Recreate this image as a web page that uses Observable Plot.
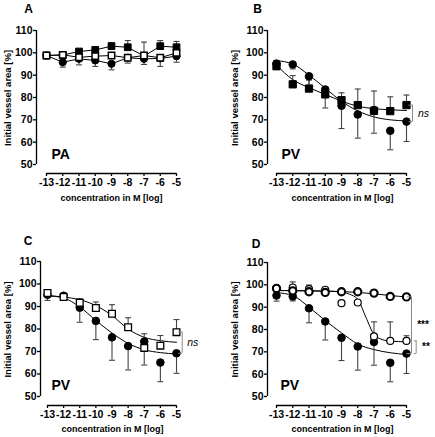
<!DOCTYPE html>
<html>
<head>
<meta charset="utf-8">
<script src="https://cdn.jsdelivr.net/npm/d3@7"></script>
<script src="https://cdn.jsdelivr.net/npm/@observablehq/plot@0.6"></script>
<style>
  html, body { margin: 0; padding: 0; background: #fff; }
  #wrap { position: relative; width: 435px; height: 437px; overflow: hidden; }
  .panel { position: absolute; }
</style>
</head>
<body>
<div id="wrap"></div>
<script>
// ---------- data ----------
const xVals = [-13, -12, -11, -10, -9, -8, -7, -6, -5];
const xTicks = [-13, -12, -11, -10, -9, -8, -7, -6, -5];
const yTicks = [50, 60, 70, 80, 90, 100, 110];
const xDomain = [-13, -5];
const yDomain = [50, 110];

// Panel A (PA)
const paFilledSquare   = [98.8, 99.0, 100.6, 101.3, 103.0, 102.5, 98.5, 103.0, 102.5];
const paFilledSquareUp = [null, null, null, 102.5, 104.5, 105.5, 104.8, 105.5, 105.1];
const paCircle         = [98.8, 95.8, 97.3, 96.6, 95.1, 97.8, 97.3, 97.5, 98.5];
const paCircleDown     = [null, 93.6, 94.6, 93.9, 92.4, 95.4, 94.8, 93.9, 95.8];
const paOpenSquare     = [98.8, 99.1, 98.0, 98.5, 98.8, 97.8, 98.8, 97.8, 100.0];

// PV control (filled circles, panels B, C, D)
const pvControl     = [95.2, 94.8, 89.5, 83.6, 76.3, 72.4, 74.4, 65.1, 69.2];
const pvControlDown = [92.7, 92.8, 83.0, 75.3, 66.1, 61.8, 64.0, 56.6, 60.3];

// Panel B
const pvbSquare    = [94.0, 85.9, 84.0, 81.4, 78.8, 76.6, 74.0, 73.9, 76.6];
const pvbSquareUp  = [96.5, 89.8, 87.8, 83.5, 82.1, 83.8, 82.9, 80.3, 81.1];
const pvbControlFit = [96.5, 95.0, 90.0, 84.2, 78.3, 74.0, 71.3, 70.0, 69.5];
const pvbSquareFit  = [94.5, 88.0, 84.4, 81.4, 78.4, 76.1, 75.0, 74.5, 74.2];

// Panel C
const pvcSquare    = [96.0, 94.2, 91.7, 89.3, 86.8, 80.8, 71.6, 72.6, 78.6];
const pvcSquareUp  = [null, null, 93.5, 92.0, 90.8, 85.0, 77.9, 77.1, 84.2];
const pvcControlFit = [94.8, 93.8, 89.8, 83.8, 78.2, 73.6, 70.8, 69.5, 68.9];
const pvcSquareFit  = [94.8, 94.2, 93.0, 90.4, 86.0, 80.0, 76.3, 74.8, 74.1];

// Panel D
const pvdThick    = [98.4, 97.3, 96.9, 96.6, 96.9, 96.9, 96.3, 94.8, 94.6];
const pvdThin     = [98.4, 98.8, 98.1, 97.8, 91.8, 92.1, 76.9, 74.9, 74.9];
const pvdThinUp   = [null, 101.3, 99.9, null, null, null, 83.4, 83.4, 77.2];
const pvdThickFit = [97.5, 97.4, 97.3, 97.2, 97.0, 96.6, 96.0, 95.2, 94.6];
const pvdThinFitX = [-13, -12, -11, -10, -9, -8.5, -8, -7.5, -7, -6.5, -6, -5];
const pvdThinFit  = [97.4, 97.4, 97.3, 97.2, 96.8, 95.8, 93.5, 85.5, 77.8, 75.5, 74.8, 74.5];
const pvdControlFit = [96.5, 95.2, 90.0, 84.0, 78.5, 73.5, 71.0, 69.6, 68.8];

// ---------- helpers ----------
const FONT = "'Liberation Sans', Arial, Helvetica, sans-serif";
const BAR = "#444";
const capSymbol = { draw(ctx, size) { const w = Math.sqrt(size / Math.PI); ctx.moveTo(-w, 0); ctx.lineTo(w, 0); } };
const leftTick  = { draw(ctx, size) { const w = Math.sqrt(size / Math.PI); ctx.moveTo(-w, 0); ctx.lineTo(0, 0); } };

function rows(xs, ys, up, down) {
  return xs.map((x, i) => ({ x, y: ys[i], up: up ? up[i] : null, down: down ? down[i] : null }));
}

function seriesMarks(s) {
  const data = rows(xVals, s.values, s.up, s.down);
  const m = [];
  const ups = data.filter(d => d.up != null);
  const downs = data.filter(d => d.down != null);
  if (ups.length) {
    m.push(Plot.ruleX(ups, { x: "x", y1: "y", y2: "up", stroke: BAR, strokeWidth: 1.1 }));
    m.push(Plot.dot(ups, { x: "x", y: "up", symbol: capSymbol, r: 3, fill: "none", stroke: BAR, strokeWidth: 1.1 }));
  }
  if (downs.length) {
    m.push(Plot.ruleX(downs, { x: "x", y1: "y", y2: "down", stroke: BAR, strokeWidth: 1.1 }));
    m.push(Plot.dot(downs, { x: "x", y: "down", symbol: capSymbol, r: 3, fill: "none", stroke: BAR, strokeWidth: 1.1 }));
  }
  return m;
}
function lineMark(xs, ys, curve) {
  return Plot.line(rows(xs, ys), { x: "x", y: "y", curve, stroke: "black", strokeWidth: 1 });
}
function dotMark(s) {
  return Plot.dot(rows(xVals, s.values), {
    x: "x", y: "y", symbol: s.symbol, r: s.r,
    fill: s.open ? "white" : "black", stroke: "black", strokeWidth: s.sw || 1
  });
}
function bracketMarks(b) {
  const d = [{ x: xDomain[1], y1: b.top, y2: b.bottom, mid: (b.top + b.bottom) / 2 }];
  const ends = [{ x: xDomain[1], y: b.top }, { x: xDomain[1], y: b.bottom }];
  const m = [
    Plot.ruleX(d, { x: "x", y1: "y1", y2: "y2", dx: b.dx, stroke: "#8a8a8a", strokeWidth: 1 }),
    Plot.dot(ends, { x: "x", y: "y", symbol: leftTick, r: b.tick, dx: b.dx, fill: "none", stroke: "#8a8a8a", strokeWidth: 1 }),
    Plot.text(d, { x: "x", y: "mid", text: () => b.label, dx: b.ldx, textAnchor: "start", lineAnchor: "middle",
      fontSize: b.italic ? 10.5 : 10, fontStyle: b.italic ? "italic" : "normal", fontWeight: b.italic ? "normal" : "bold", fill: "black" })
  ];
  return m;
}

function panel(cfg) {
  const { width, height, ml, mr, mt, mb, insetL, insetB } = cfg;
  const marks = [];
  // offset axis lines
  marks.push(Plot.ruleX([{ x: xDomain[0], y1: yDomain[0], y2: yDomain[1] }],
    { x: "x", y1: "y1", y2: "y2", dx: -insetL, stroke: "black", strokeWidth: 1.3 }));
  marks.push(Plot.ruleY([{ y: yDomain[0], x1: xDomain[0], x2: xDomain[1] }],
    { y: "y", x1: "x1", x2: "x2", dy: insetB, stroke: "black", strokeWidth: 1.3 }));
  marks.push(Plot.axisX(xTicks, { anchor: "bottom", tickSize: 3, tickPadding: 2, strokeWidth: 1.3,
    tickFormat: d => String(d), label: null, fontSize: 10.5, fontWeight: "bold" }));
  marks.push(Plot.axisY(yTicks, { anchor: "left", tickSize: 3, tickPadding: 1, strokeWidth: 1.3,
    tickFormat: d => String(d), label: null, fontSize: 10.5, fontWeight: "bold" }));
  // titles
  const t = (txt, px, py, opts) => Plot.text([txt], Object.assign({
    frameAnchor: "top-left", dx: px - ml, dy: py - mt, text: d => d, fill: "black",
    fontWeight: "bold", textAnchor: "middle", lineAnchor: "middle"
  }, opts));
  marks.push(t(cfg.letter, cfg.letterPos[0], cfg.letterPos[1], { fontSize: 12 }));
  marks.push(t(cfg.tissue, cfg.tissuePos[0], cfg.tissuePos[1], { fontSize: 14, textAnchor: "start" }));
  marks.push(t("Initial vessel area [%]", cfg.yTitlePos[0], cfg.yTitlePos[1], { fontSize: 9.5, rotate: -90 }));
  marks.push(t("concentration in M [log]", cfg.xTitlePos[0], cfg.xTitlePos[1], { fontSize: 9 }));
  // data
  (cfg.lines || []).forEach(l => marks.push(lineMark(l.x, l.y, l.curve || "monotone-x")));
  (cfg.series || []).forEach(s => marks.push(...seriesMarks(s)));
  (cfg.series || []).forEach(s => marks.push(dotMark(s)));
  (cfg.brackets || []).forEach(b => marks.push(...bracketMarks(b)));

  const svg = Plot.plot({
    width, height, marginLeft: ml, marginRight: mr, marginTop: mt, marginBottom: mb,
    x: { domain: xDomain, insetLeft: insetL },
    y: { domain: yDomain, insetBottom: insetB },
    style: { fontFamily: FONT, color: "black", background: "white", overflow: "visible" },
    marks
  });
  const div = document.createElement("div");
  div.className = "panel";
  div.style.left = cfg.left + "px";
  div.style.top = cfg.top + "px";
  div.appendChild(svg);
  document.getElementById("wrap").appendChild(div);
}

// ---------- panels ----------
panel({
  left: 0, top: 0, width: 217, height: 218, ml: 36, mr: 41, mt: 30, mb: 45, insetL: 10, insetB: 9,
  letter: "A", letterPos: [28, 9], tissue: "PA", tissuePos: [51, 154],
  yTitlePos: [7, 97.5], xTitlePos: [111, 198],
  lines: [
    { x: xVals, y: paCircle, curve: "linear" },
    { x: xVals, y: paFilledSquare, curve: "linear" },
    { x: xVals, y: paOpenSquare, curve: "linear" }
  ],
  series: [
    { values: paCircle, down: paCircleDown, symbol: "circle", r: 3.6 },
    { values: paFilledSquare, up: paFilledSquareUp, symbol: "square", r: 3.8 },
    { values: paOpenSquare, symbol: "square", r: 3.6, open: true, sw: 1.5 }
  ]
});

panel({
  left: 217, top: 0, width: 218, height: 218, ml: 50, mr: 29, mt: 30, mb: 45, insetL: 9, insetB: 9,
  letter: "B", letterPos: [40, 8.5], tissue: "PV", tissuePos: [64, 154],
  yTitlePos: [17, 97.5], xTitlePos: [125, 198],
  lines: [
    { x: xVals, y: pvbControlFit },
    { x: xVals, y: pvbSquareFit }
  ],
  series: [
    { values: pvControl, down: pvControlDown, symbol: "circle", r: 3.8 },
    { values: pvbSquare, up: pvbSquareUp, symbol: "square", r: 4.1 }
  ],
  brackets: [
    { top: pvbSquare[8], bottom: pvControl[8], dx: 6, tick: 4, label: "ns", ldx: 11.5, italic: true }
  ]
});

panel({
  left: 0, top: 218, width: 217, height: 219, ml: 40, mr: 41, mt: 43, mb: 32, insetL: 7, insetB: 9,
  letter: "C", letterPos: [27.5, 23], tissue: "PV", tissuePos: [51, 167.5],
  yTitlePos: [7, 111], xTitlePos: [112, 211],
  lines: [
    { x: xVals, y: pvcControlFit },
    { x: xVals, y: pvcSquareFit }
  ],
  series: [
    { values: pvControl, down: pvControlDown, symbol: "circle", r: 3.8 },
    { values: pvcSquare, up: pvcSquareUp, symbol: "square", r: 3.8, open: true, sw: 1.3 }
  ],
  brackets: [
    { top: pvcSquare[8], bottom: pvControl[8], dx: 5.7, tick: 4, label: "ns", ldx: 10.7, italic: true }
  ]
});

panel({
  left: 217, top: 218, width: 218, height: 219, ml: 50, mr: 29, mt: 44, mb: 32, insetL: 9, insetB: 9,
  letter: "D", letterPos: [38.5, 25.5], tissue: "PV", tissuePos: [63, 167.5],
  yTitlePos: [17, 111], xTitlePos: [125, 211],
  lines: [
    { x: xVals, y: pvdControlFit },
    { x: xVals, y: pvdThickFit },
    { x: pvdThinFitX, y: pvdThinFit }
  ],
  series: [
    { values: pvControl, down: pvControlDown, symbol: "circle", r: 3.8 },
    { values: pvdThin, up: pvdThinUp, symbol: "circle", r: 3.5, open: true, sw: 1.2 },
    { values: pvdThick, symbol: "circle", r: 3.6, open: true, sw: 2.1 }
  ],
  brackets: [
    { top: pvdThick[8], bottom: pvControl[8], dx: 5, tick: 5, label: "***", ldx: 10.7, italic: false },
    { top: pvdThin[8], bottom: pvControl[8], dx: 9.7, tick: 2.5, label: "**", ldx: 15.5, italic: false }
  ]
});
</script>
</body>
</html>
